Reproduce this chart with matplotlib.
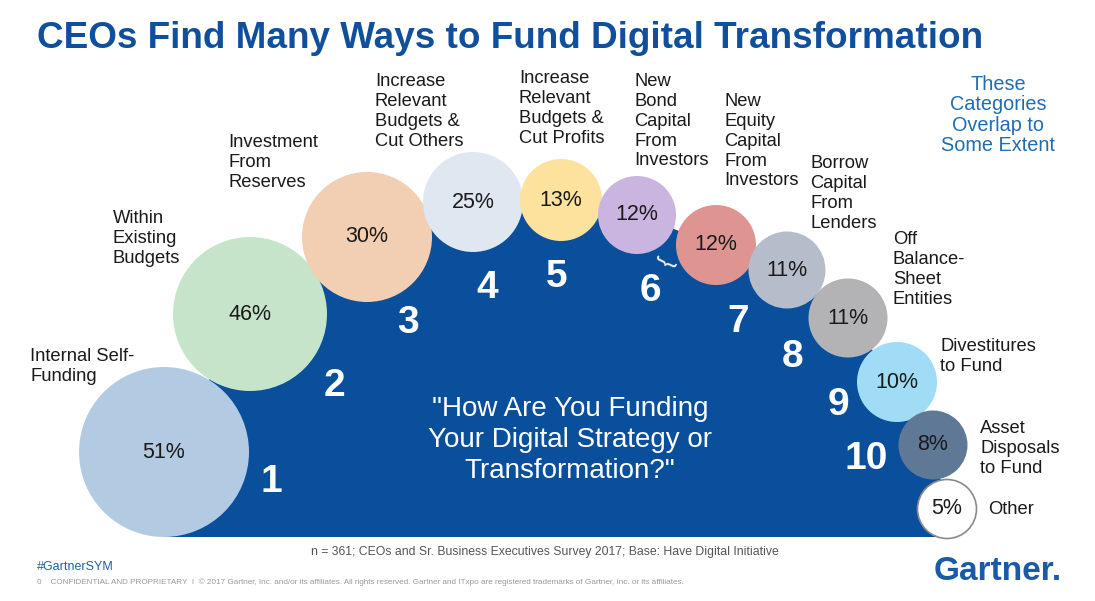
import matplotlib.pyplot as plt
from matplotlib.patches import Circle, Polygon

plt.rcParams['font.family'] = ['Liberation Sans', 'DejaVu Sans']

# data
categories = ['Internal Self-\nFunding', 'Within\nExisting\nBudgets', 'Investment\nFrom\nReserves',
              'Increase\nRelevant\nBudgets &\nCut Others', 'Increase\nRelevant\nBudgets &\nCut Profits',
              'New\nBond\nCapital\nFrom\nInvestors', 'New\nEquity\nCapital\nFrom\nInvestors',
              'Borrow\nCapital\nFrom\nLenders', 'Off\nBalance-\nSheet\nEntities',
              'Divestitures\nto Fund', 'Asset\nDisposals\nto Fund', 'Other']
shares = [51, 46, 30, 25, 13, 12, 12, 11, 11, 10, 8, 5]
ranks = ['1', '2', '3', '4', '5', '6', '7', '8', '9', '10', '', '']

# layout (pixel coords of the slide)
centers = [(164, 452), (250, 314), (367, 237), (473, 202), (561, 200), (637, 215),
           (716, 245), (787, 270), (848, 318), (897, 382), (933, 445), (947, 509)]
radii = [85, 77, 65, 50, 41, 39, 40, 38.5, 39.5, 40, 34.5, 29.5]
colors = ['#b3cbe2', '#c6e4ca', '#f2ceb2', '#dfe7f0', '#fde29d', '#c9b5e0',
          '#de9592', '#b5bdcb', '#b3b3b5', '#a0dcf5', '#5f7896', '#ffffff']
label_pos = [(30, 348), (113, 210), (228, 134), (375, 73), (519, 70), (634, 73),
             (724, 93), (810, 155), (893, 231), (940, 338), (980, 420), (988, 510)]
rank_pos = [(271, 482), (334, 386), (408, 323), (487, 288), (557, 277), (650, 291),
            (738, 322), (793, 357), (838, 405), (866, 459)]

blue = '#0a4f9c'

fig = plt.figure(figsize=(10.95, 6.01), dpi=100)
ax = fig.add_axes([0, 0, 1, 1])
ax.set_xlim(0, 1095)
ax.set_ylim(601, 0)
ax.set_aspect('equal')
ax.axis('off')

# dark blue dome behind the bubbles
dome = [(centers[0][0], 537)] + centers + [(centers[-1][0], 537)]
ax.add_patch(Polygon(dome, closed=True, facecolor=blue, edgecolor='none', zorder=1))

for i, (c, r, col) in enumerate(zip(centers, radii, colors)):
    edge = '#8a8a8a' if i == len(centers) - 1 else 'none'
    ax.add_patch(Circle(c, r, facecolor=col, edgecolor=edge, lw=1.2, zorder=2))
    ax.text(c[0], c[1], f'{shares[i]}%', ha='center', va='center', fontsize=15.5,
            color='#1a1a1a', zorder=3)

for i, (lab, pos) in enumerate(zip(categories, label_pos)):
    va = 'center' if lab == 'Other' else 'top'
    ax.text(pos[0], pos[1], lab, ha='left', va=va, fontsize=13.2, color='#1a1a1a',
            linespacing=1.22, zorder=3)

for rk, pos in zip(ranks, rank_pos):
    ax.text(pos[0], pos[1], rk, ha='center', va='center', fontsize=28, fontweight='bold',
            color='white', zorder=3)

# brace under bubble 6
ax.text(667, 262, '{', rotation=65, ha='center', va='center', fontsize=16,
        color='white', zorder=3)

ax.text(570, 440, '"How Are You Funding\nYour Digital Strategy or\nTransformation?"',
        ha='center', va='center', fontsize=20, color='white', linespacing=1.25, zorder=3)

ax.text(37, 38, 'CEOs Find Many Ways to Fund Digital Transformation', ha='left', va='center',
        fontsize=26.6, fontweight='bold', color='#0f4f9b')

ax.text(998, 115, 'These\nCategories\nOverlap to\nSome Extent', ha='center', va='center',
        fontsize=14.3, color='#1f6db3', linespacing=1.1)

ax.text(545, 552, 'n = 361; CEOs and Sr. Business Executives Survey 2017; Base: Have Digital Initiative',
        ha='center', va='center', fontsize=8.8, color='#555555')
ax.text(37, 567, '#GartnerSYM', ha='left', va='center', fontsize=9, color='#1f5fa8')
ax.text(37, 582, '0    CONFIDENTIAL AND PROPRIETARY  I  \u00a9 2017 Gartner, Inc. and/or its affiliates. '
        'All rights reserved. Gartner and ITxpo are registered trademarks of Gartner, Inc. or its affiliates.',
        ha='left', va='center', fontsize=5.9, color='#9a9a9a')
ax.text(934, 572, 'Gartner.', ha='left', va='center', fontsize=24, fontweight='bold',
        color='#1a5aa6')

fig.savefig('out.png', dpi=100, facecolor='white')
